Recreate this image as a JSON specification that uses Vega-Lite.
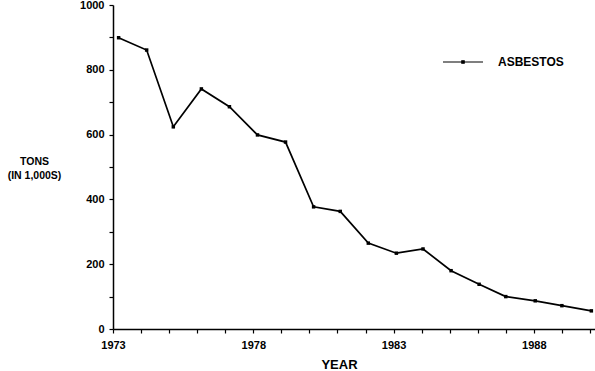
{
  "$schema": "https://vega.github.io/schema/vega-lite/v6.json",
  "width": 482,
  "height": 324,
  "autosize": {"type": "none"},
  "padding": {"left": 113, "top": 5, "right": 0, "bottom": 42},
  "background": "white",
  "config": {
    "view": {"stroke": null},
    "font": "Liberation Sans",
    "axis": {
      "grid": false,
      "domainColor": "black",
      "domainWidth": 1.5,
      "tickColor": "black",
      "tickWidth": 1.2,
      "tickSize": 4,
      "labelFont": "Liberation Sans",
      "labelFontWeight": "bold",
      "labelFontSize": 11,
      "labelColor": "black",
      "titleFont": "Liberation Sans",
      "titleFontWeight": "bold",
      "titleFontSize": 11,
      "titleColor": "black"
    }
  },
  "data": {
    "values": [
      {"year": 1973.2, "tons": 899, "series": "ASBESTOS"},
      {"year": 1974.2, "tons": 861, "series": "ASBESTOS"},
      {"year": 1975.15, "tons": 624, "series": "ASBESTOS"},
      {"year": 1976.15, "tons": 741, "series": "ASBESTOS"},
      {"year": 1977.15, "tons": 686, "series": "ASBESTOS"},
      {"year": 1978.15, "tons": 599, "series": "ASBESTOS"},
      {"year": 1979.15, "tons": 577, "series": "ASBESTOS"},
      {"year": 1980.15, "tons": 377, "series": "ASBESTOS"},
      {"year": 1981.1, "tons": 363, "series": "ASBESTOS"},
      {"year": 1982.1, "tons": 265, "series": "ASBESTOS"},
      {"year": 1983.1, "tons": 234, "series": "ASBESTOS"},
      {"year": 1984.05, "tons": 247, "series": "ASBESTOS"},
      {"year": 1985.05, "tons": 180, "series": "ASBESTOS"},
      {"year": 1986.05, "tons": 138, "series": "ASBESTOS"},
      {"year": 1987.0, "tons": 100, "series": "ASBESTOS"},
      {"year": 1988.05, "tons": 87, "series": "ASBESTOS"},
      {"year": 1989.0, "tons": 72, "series": "ASBESTOS"},
      {"year": 1990.05, "tons": 56, "series": "ASBESTOS"}
    ]
  },
  "mark": {"type": "line", "strokeWidth": 1.7, "point": {"shape": "square", "size": 12, "filled": true, "color": "black"}},
  "encoding": {
    "x": {
      "field": "year",
      "type": "quantitative",
      "scale": {"domain": [1973, 1990.18], "nice": false, "zero": false},
      "axis": {
        "values": [1973, 1974, 1975, 1976, 1977, 1978, 1979, 1980, 1981, 1982, 1983, 1984, 1985, 1986, 1987, 1988, 1989, 1990],
        "labelExpr": "(datum.value - 1973) % 5 == 0 ? format(datum.value, 'd') : ''",
        "labelPadding": 6,
        "labelFlush": false,
        "title": "YEAR",
        "titleX": 226,
        "titleY": 29,
        "titleBaseline": "top",
        "titleFontSize": 13
      }
    },
    "y": {
      "field": "tons",
      "type": "quantitative",
      "scale": {"domain": [0, 1000], "nice": false},
      "axis": {
        "values": [0, 100, 200, 300, 400, 500, 600, 700, 800, 900, 1000],
        "labelExpr": "datum.value % 200 == 0 ? format(datum.value, 'd') : ''",
        "labelPadding": 5,
        "labelFlush": false,
        "title": ["TONS", "(IN 1,000S)"],
        "titleAngle": 0,
        "titleAlign": "center",
        "titleX": -79,
        "titleY": 156,
        "titleBaseline": "middle",
        "titleFontSize": 10.5,
        "titleLineHeight": 14
      }
    },
    "color": {
      "field": "series",
      "type": "nominal",
      "scale": {"range": ["black"]},
      "legend": {
        "title": null,
        "orient": "none",
        "legendX": 329,
        "legendY": 36,
        "symbolType": "M-1,0L1,0M-0.06,-0.06L0.06,-0.06L0.06,0.06L-0.06,0.06Z",
        "symbolSize": 1600,
        "symbolStrokeColor": "black",
        "symbolFillColor": "black",
        "symbolStrokeWidth": 1.2,
        "labelFont": "Liberation Sans",
        "labelFontWeight": "bold",
        "labelFontSize": 12,
        "labelColor": "black",
        "labelOffset": 14
      }
    }
  }
}
